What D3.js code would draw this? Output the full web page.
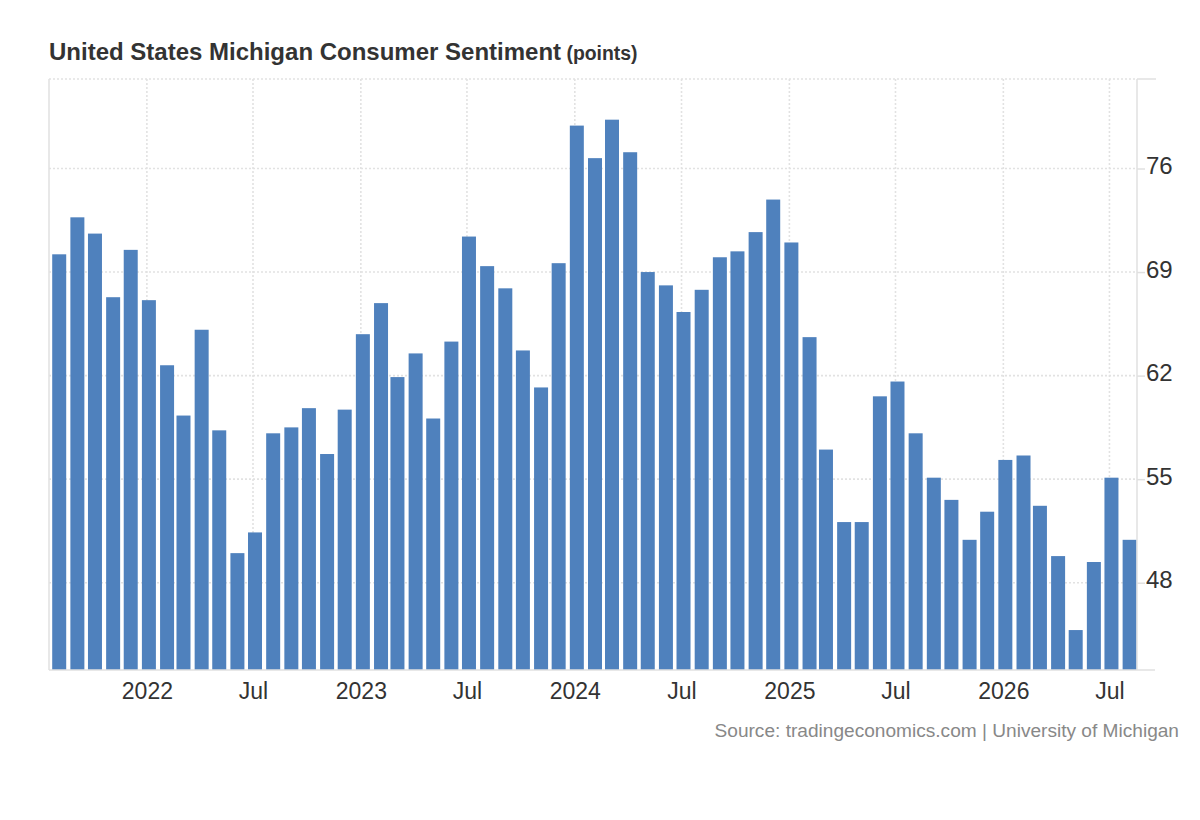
<!DOCTYPE html>
<html>
<head>
<meta charset="utf-8">
<script src="https://cdn.jsdelivr.net/npm/d3@7"></script>
<style>
  body { margin: 0; background: #fff; font-family: "Liberation Sans", Arial, Helvetica, sans-serif; }
</style>
</head>
<body>
<script>
// monthly readings, Aug 2021 .. Aug 2026
var months = [
  '2021-08','2021-09','2021-10','2021-11','2021-12',
  '2022-01','2022-02','2022-03','2022-04','2022-05','2022-06','2022-07','2022-08','2022-09','2022-10','2022-11','2022-12',
  '2023-01','2023-02','2023-03','2023-04','2023-05','2023-06','2023-07','2023-08','2023-09','2023-10','2023-11','2023-12',
  '2024-01','2024-02','2024-03','2024-04','2024-05','2024-06','2024-07','2024-08','2024-09','2024-10','2024-11','2024-12',
  '2025-01','2025-02','2025-03','2025-04','2025-05','2025-06','2025-07','2025-08','2025-09','2025-10','2025-11','2025-12',
  '2026-01','2026-02','2026-03','2026-04','2026-05','2026-06','2026-07','2026-08'
]
var sentiment = [
  70.2, 72.7, 71.6, 67.3, 70.5,
  67.1, 62.7, 59.3, 65.1, 58.3, 50.0, 51.4, 58.1, 58.5, 59.8, 56.7, 59.7,
  64.8, 66.9, 61.9, 63.5, 59.1, 64.3, 71.4, 69.4, 67.9, 63.7, 61.2, 69.6,
  78.9, 76.7, 79.3, 77.1, 69.0, 68.1, 66.3, 67.8, 70.0, 70.4, 71.7, 73.9,
  71.0, 64.6, 57.0, 52.1, 52.1, 60.6, 61.6, 58.1, 55.1, 53.6, 50.9, 52.8,
  56.3, 56.6, 53.2, 49.8, 44.8, 49.4, 55.1, 50.9
]
var yTicks = [48, 55, 62, 69, 76]
var xTickDates = ['2022-01','2022-07','2023-01','2023-07','2024-01','2024-07','2025-01','2025-07','2026-01','2026-07']

var parseMonth = d3.timeParse('%Y-%m')
var data = months.map(function(m, i){ return {date: parseMonth(m), value: sentiment[i]} })

var settings = {
  left: 49, right: 1137, top: 79, bottom: 670,
  barWidth: 14, barShift: 5,
  grid: '#e2e2e2', axis: '#e0e0e0', bar: '#4f81bd', text: '#333'
}

var svg = d3.select('body').append('svg')
    .attr('width', 1200).attr('height', 820)

var x = d3.scaleTime()
    .domain([new Date(2021, 6, 18), new Date(2026, 7, 17)])
    .range([settings.left, settings.right])

var y = d3.scaleLinear()
    .domain([42.1, 82.05])
    .range([settings.bottom, settings.top])

// title
var title = svg.append('text')
    .attr('x', 49).attr('y', 60)
    .attr('fill', settings.text)
    .style('font-weight', 'bold')
    .style('font-size', '24px')
    .text('United States Michigan Consumer Sentiment')
title.append('tspan')
    .style('font-size', '19.4px')
    .text(' (points)')

// horizontal dotted grid (ticks + top edge)
svg.append('g').selectAll('line')
    .data(yTicks.concat([y.domain()[1]]))
    .enter().append('line')
    .attr('x1', settings.left).attr('x2', settings.right)
    .attr('y1', function(d){ return y(d) }).attr('y2', function(d){ return y(d) })
    .attr('stroke', settings.grid)
    .attr('stroke-width', 1.6)
    .attr('stroke-dasharray', '2,2')

// vertical dotted grid at Jan / Jul
svg.append('g').selectAll('line')
    .data(xTickDates.map(parseMonth))
    .enter().append('line')
    .attr('x1', function(d){ return x(d) }).attr('x2', function(d){ return x(d) })
    .attr('y1', settings.top).attr('y2', settings.bottom)
    .attr('stroke', settings.grid)
    .attr('stroke-width', 1.6)
    .attr('stroke-dasharray', '2,2')

// bars
svg.append('g').selectAll('rect')
    .data(data)
    .enter().append('rect')
    .attr('x', function(d){ return x(d.date) - settings.barShift })
    .attr('width', settings.barWidth)
    .attr('y', function(d){ return y(d.value) })
    .attr('height', function(d){ return settings.bottom - y(d.value) })
    .attr('fill', settings.bar)

// axes lines
var frame = svg.append('g').attr('stroke', settings.axis).attr('stroke-width', 1.5)
frame.append('line')
    .attr('x1', settings.left).attr('x2', settings.left)
    .attr('y1', settings.top).attr('y2', settings.bottom)
frame.append('line')
    .attr('x1', settings.right).attr('x2', settings.right)
    .attr('y1', settings.top).attr('y2', settings.bottom)
frame.append('line')
    .attr('x1', settings.left).attr('x2', settings.right + 18)
    .attr('y1', settings.bottom).attr('y2', settings.bottom)
frame.append('line')
    .attr('x1', settings.right).attr('x2', settings.right + 19)
    .attr('y1', settings.top).attr('y2', settings.top)

// right y axis
var yAxis = d3.axisRight(y)
    .tickValues(yTicks)
    .tickSize(8)
    .tickPadding(1)
var gy = svg.append('g')
    .attr('transform', 'translate(' + settings.right + ',0)')
    .call(yAxis)
gy.select('.domain').remove()
gy.selectAll('.tick line').attr('stroke', settings.axis).attr('stroke-width', 1.5)
gy.selectAll('.tick text')
    .attr('fill', settings.text)
    .attr('dy', '0.22em')
    .style('font-size', '24px')
    .style('font-family', '"Liberation Sans", Arial, sans-serif')

// bottom x axis labels
var xAxis = d3.axisBottom(x)
    .tickValues(xTickDates.map(parseMonth))
    .tickSize(0)
    .tickPadding(13)
    .tickFormat(function(d){ return d.getMonth() === 0 ? d3.timeFormat('%Y')(d) : d3.timeFormat('%b')(d) })
var gx = svg.append('g')
    .attr('transform', 'translate(0,' + settings.bottom + ')')
    .call(xAxis)
gx.select('.domain').remove()
gx.selectAll('.tick text')
    .attr('fill', settings.text)
    .style('font-size', '23px')
    .style('font-family', '"Liberation Sans", Arial, sans-serif')

// source
svg.append('text')
    .attr('x', 1179).attr('y', 737)
    .attr('text-anchor', 'end')
    .attr('fill', '#888')
    .style('font-size', '19.1px')
    .text('Source: tradingeconomics.com | University of Michigan')
</script>
</body>
</html>
